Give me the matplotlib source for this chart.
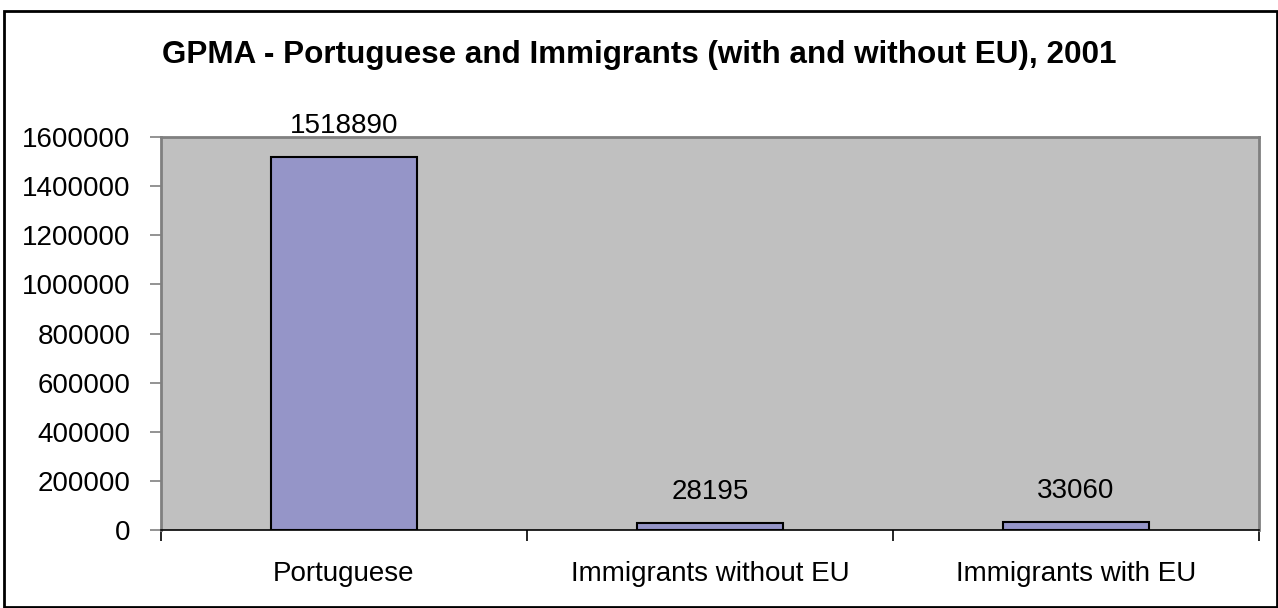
"""
Bar chart of Greater Porto population by origin, 2001.
"""
import matplotlib.pyplot as plt
from matplotlib.patches import Rectangle

categories = ["Portuguese", "Immigrants without EU", "Immigrants with EU"]
population = [1518890, 28195, 33060]
y_ticks = [0, 200000, 400000, 600000, 800000, 1000000, 1200000, 1400000, 1600000]

TITLE = "GPMA - Portuguese and Immigrants (with and without EU), 2001"

plt.rcParams["font.family"] = ["Liberation Sans", "DejaVu Sans"]

fig = plt.figure(figsize=(12.78, 6.08), dpi=100)
ax = fig.add_axes([161 / 1278, 78 / 608, 1098 / 1278, 393 / 608])
ax.set_facecolor("#c0c0c0")

positions = list(range(len(categories)))
bars = ax.bar(positions, population, width=0.4, color="#9595c8",
              edgecolor="black", linewidth=1.5, zorder=3)

for bar, value in zip(bars, population):
    ax.annotate(str(value), (bar.get_x() + bar.get_width() / 2, value),
                xytext=(0, 13), textcoords="offset points",
                ha="center", va="bottom", fontsize=20, color="black")

ax.set_xlim(-0.5, len(categories) - 0.5)
ax.set_ylim(0, 1600000)
ax.set_yticks(y_ticks)
ax.set_yticklabels([str(t) for t in y_ticks], fontsize=20)

# category names sit between boundary ticks, excel style
ax.set_xticks(positions)
ax.set_xticklabels(categories, fontsize=20)
ax.tick_params(axis="x", length=0, pad=22)
ax.set_xticks([-0.5 + i for i in range(len(categories) + 1)], minor=True)
ax.tick_params(axis="x", which="minor", length=8, width=1.2, color="black")
ax.tick_params(axis="y", length=8, width=1.2, color="#808080", pad=14)

for side in ["left", "top", "right"]:
    ax.spines[side].set_color("#808080")
    ax.spines[side].set_linewidth(2)
ax.spines["bottom"].set_color("black")
ax.spines["bottom"].set_linewidth(1.2)

fig.text(0.5, 1 - 63 / 608, TITLE, ha="center", va="baseline",
         fontsize=22.6, fontweight="bold")

# outer chart frame
fig.patches.append(Rectangle((4 / 1278, 1 / 608), 1273 / 1278, 596 / 608,
                             transform=fig.transFigure, fill=False,
                             edgecolor="black", linewidth=2))

fig.savefig("out.png", dpi=100)
